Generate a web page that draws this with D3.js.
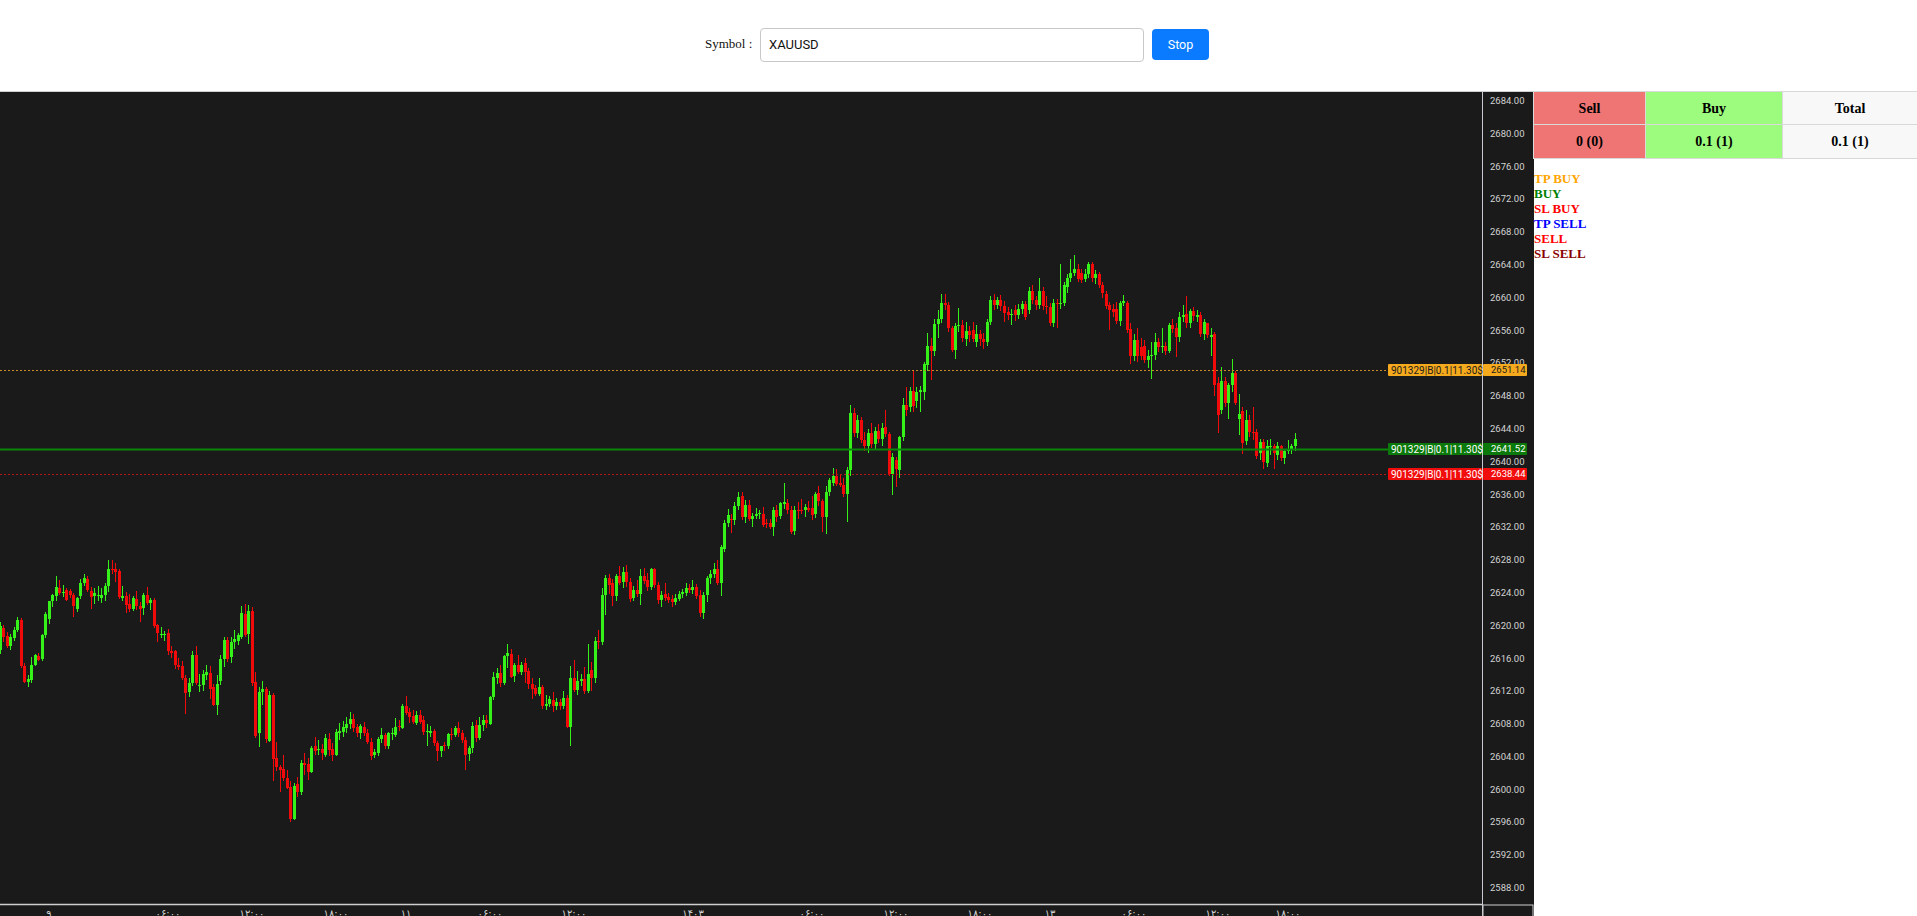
<!DOCTYPE html>
<html>
<head>
<meta charset="utf-8">
<title>XAUUSD</title>
<script src="https://cdn.jsdelivr.net/npm/d3@7"></script>
<style>
  body { margin: 0; width: 1917px; height: 916px; overflow: hidden; position: relative; background: #fff; font-family: "Liberation Serif", serif; }
  #topbar { position: absolute; left: 0; top: 0; width: 1917px; height: 91px; border-bottom: 1px solid #cfcfcf; background: #fff; }
  #symLabel { position: absolute; left: 705px; top: 36px; font-size: 13px; color: #111; }
  #symInput { position: absolute; left: 760px; top: 28px; width: 384px; height: 34px; box-sizing: border-box; border: 1px solid #c8c8c8; border-radius: 4px; font: 13px Roboto, sans-serif; color: #111; padding: 0 0 0 8px; line-height: 32px; }
  #stopBtn { position: absolute; left: 1152px; top: 29px; width: 57px; height: 31px; background: #0a7bff; color: #fff; border-radius: 4px; font: 12.5px Roboto, sans-serif; text-align: center; line-height: 31px; }
  #chart { position: absolute; left: 0; top: 0; }
  #summary { position: absolute; left: 1533px; top: 91px; width: 384px; border-collapse: collapse; table-layout: fixed; font: bold 14px "Liberation Serif", serif; color: #000; }
  #summary td { border: 1px solid #d9d9d9; text-align: center; padding: 0; }
  #summary tr.head td { height: 31px; padding-top: 1px; }
  #summary tr.vals td { height: 32px; padding-top: 1px; }
  #legend { position: absolute; left: 1534px; top: 172px; font: bold 13px "Liberation Serif", serif; line-height: 14.9px; }
</style>
</head>
<body>
<div id="topbar">
  <div id="symLabel">Symbol :</div>
  <div id="symInput">XAUUSD</div>
  <div id="stopBtn">Stop</div>
</div>
<div id="chart"></div>
<table id="summary">
  <colgroup><col style="width:112px"><col style="width:137px"><col style="width:135px"></colgroup>
</table>
<div id="legend"></div>

<script>
// 15 min XAUUSD candles, [open, high, low, close]
var ohlc = [
[2617.0,2620.4,2616.5,2619.9],[2619.6,2620.0,2618.0,2618.5],[2618.7,2619.2,2617.2,2617.4],[2617.4,2618.9,2617.0,2618.5],
[2618.4,2619.8,2618.1,2619.4],[2619.4,2621.0,2619.2,2620.6],[2620.6,2620.9,2614.8,2615.0],[2615.0,2615.4,2612.9,2613.1],
[2613.1,2613.9,2612.4,2613.4],[2613.3,2616.1,2613.0,2615.2],[2615.2,2616.5,2615.0,2616.3],[2616.2,2616.6,2615.6,2615.8],
[2615.9,2618.9,2615.6,2618.8],[2618.8,2621.6,2618.4,2621.4],[2620.8,2623.0,2620.2,2622.9],[2622.9,2623.8,2622.2,2623.7],
[2623.5,2626.0,2623.0,2624.7],[2624.5,2625.5,2623.7,2623.9],[2624.0,2624.9,2623.4,2624.1],[2624.3,2624.5,2622.9,2623.1],
[2624.2,2624.4,2623.3,2623.7],[2623.7,2623.9,2621.0,2622.3],[2622.0,2623.4,2621.6,2623.3],[2623.5,2625.6,2623.2,2625.2],
[2625.1,2626.2,2624.8,2625.7],[2625.6,2626.0,2624.1,2624.3],[2624.2,2624.6,2622.0,2623.4],[2623.5,2624.5,2622.6,2623.9],
[2623.6,2624.8,2623.0,2623.7],[2623.3,2624.5,2622.7,2623.7],[2623.7,2625.1,2623.0,2624.8],[2624.8,2628.0,2624.0,2626.9],
[2626.9,2628.0,2626.2,2626.7],[2626.8,2627.6,2625.3,2626.5],[2626.6,2626.8,2623.2,2623.4],[2623.3,2624.8,2623.0,2623.5],
[2623.6,2624.0,2621.5,2622.5],[2622.6,2623.8,2621.6,2622.0],[2622.0,2623.5,2621.7,2623.3],[2623.2,2624.2,2621.8,2622.3],
[2622.3,2622.8,2620.4,2622.0],[2622.1,2623.9,2621.3,2623.7],[2623.7,2624.6,2622.4,2622.7],[2622.7,2623.3,2621.8,2623.1],
[2623.1,2623.3,2619.7,2619.9],[2620.0,2620.2,2618.0,2619.0],[2618.9,2619.8,2618.4,2618.9],[2618.8,2619.3,2618.1,2618.9],
[2619.0,2619.5,2616.4,2616.8],[2616.9,2617.5,2616.0,2616.6],[2616.8,2617.0,2614.7,2615.1],[2615.2,2616.0,2614.5,2614.9],
[2615.0,2615.6,2613.3,2613.6],[2613.6,2613.9,2609.2,2611.7],[2611.8,2613.6,2611.2,2613.0],[2613.0,2616.9,2612.6,2616.4],
[2616.4,2617.4,2612.7,2612.9],[2612.7,2614.0,2611.8,2612.7],[2612.7,2614.5,2612.0,2614.0],[2613.9,2615.2,2613.3,2614.3],
[2614.2,2615.0,2611.0,2612.2],[2612.4,2612.8,2610.1,2610.3],[2610.3,2613.9,2609.0,2612.8],[2613.2,2616.4,2612.7,2615.9],
[2615.9,2618.6,2614.9,2618.2],[2618.2,2618.6,2615.5,2615.9],[2616.1,2618.5,2615.4,2617.9],[2617.9,2619.4,2617.1,2618.3],
[2618.1,2619.1,2617.6,2618.8],[2618.6,2622.3,2618.3,2621.5],[2621.4,2622.6,2618.6,2618.8],[2618.9,2622.4,2617.7,2621.7],
[2621.7,2622.2,2612.6,2613.0],[2613.1,2614.3,2606.2,2606.5],[2606.8,2612.5,2605.1,2611.9],[2611.8,2613.2,2610.3,2612.2],
[2612.2,2612.5,2605.6,2606.1],[2605.9,2612.0,2605.7,2611.5],[2611.5,2611.7,2601.0,2603.7],[2603.8,2605.8,2602.2,2602.7],
[2602.7,2603.0,2599.6,2602.3],[2602.4,2604.2,2601.0,2601.4],[2601.4,2602.3,2600.0,2600.1],[2600.2,2601.0,2596.0,2596.3],
[2596.4,2600.8,2596.2,2600.4],[2600.6,2601.5,2599.1,2599.7],[2599.7,2603.5,2599.3,2603.2],[2603.2,2604.4,2601.7,2602.9],
[2603.1,2603.8,2601.1,2602.1],[2602.1,2605.3,2602.0,2605.0],[2605.2,2606.4,2604.2,2604.7],[2604.8,2606.0,2604.2,2604.9],
[2604.9,2605.5,2603.6,2604.4],[2604.2,2606.7,2603.9,2606.2],[2606.1,2606.9,2604.0,2604.8],[2604.9,2605.6,2603.4,2604.2],
[2604.2,2607.3,2604.0,2607.0],[2606.9,2608.1,2606.0,2607.1],[2607.0,2608.3,2606.4,2607.6],[2607.5,2608.8,2606.9,2608.0],
[2608.0,2609.4,2607.3,2608.6],[2608.6,2609.2,2607.0,2607.4],[2607.6,2608.0,2606.4,2606.9],[2606.9,2607.9,2606.1,2607.7],
[2607.6,2608.2,2606.5,2606.8],[2606.9,2607.3,2605.5,2605.8],[2605.7,2606.2,2603.6,2604.0],[2604.2,2604.9,2603.8,2604.5],
[2604.4,2606.4,2604.0,2606.1],[2606.1,2607.4,2605.6,2606.6],[2606.6,2606.9,2604.9,2605.2],[2605.2,2607.0,2604.9,2606.9],
[2606.8,2607.5,2606.0,2606.9],[2606.6,2608.7,2606.3,2607.6],[2607.7,2608.4,2607.1,2607.6],[2607.5,2610.4,2607.3,2610.1],
[2610.1,2611.4,2609.0,2609.3],[2609.4,2609.9,2608.1,2608.8],[2608.9,2609.6,2607.9,2608.2],[2608.1,2609.5,2607.8,2609.1],
[2609.1,2609.6,2607.9,2608.2],[2608.4,2608.9,2606.6,2607.0],[2607.0,2607.9,2605.2,2607.1],[2606.9,2607.7,2606.3,2607.1],
[2607.1,2607.3,2605.2,2605.6],[2605.6,2605.9,2603.4,2604.6],[2604.6,2605.3,2603.9,2605.3],[2605.4,2605.8,2604.7,2605.2],
[2605.2,2606.9,2604.9,2606.7],[2606.7,2607.4,2606.0,2606.6],[2606.6,2607.7,2606.3,2607.5],[2607.5,2608.2,2606.4,2606.8],
[2606.9,2607.2,2605.6,2606.0],[2606.0,2606.3,2602.3,2604.2],[2604.3,2605.2,2603.4,2605.0],[2605.0,2608.2,2604.4,2607.7],
[2607.8,2608.4,2605.8,2606.2],[2606.2,2608.8,2606.0,2607.8],[2607.8,2609.1,2607.1,2608.4],[2608.4,2609.0,2607.4,2608.1],
[2608.0,2611.4,2607.8,2611.2],[2611.2,2614.3,2610.9,2613.7],[2613.6,2614.8,2612.8,2614.2],[2614.2,2615.1,2612.5,2613.0],
[2613.0,2616.3,2612.7,2616.2],[2616.2,2617.7,2614.8,2616.6],[2616.5,2617.1,2613.5,2613.7],[2613.8,2615.4,2613.1,2615.1],
[2615.1,2616.3,2614.0,2614.3],[2614.3,2615.5,2613.9,2615.1],[2615.4,2616.0,2612.9,2614.3],[2614.4,2614.8,2612.2,2612.8],
[2612.8,2613.5,2611.0,2612.2],[2612.3,2612.7,2611.3,2611.6],[2611.6,2613.6,2611.3,2612.4],[2612.4,2612.7,2609.8,2610.1],
[2610.1,2611.5,2609.7,2610.4],[2610.4,2611.4,2610.0,2611.0],[2610.9,2611.9,2609.4,2610.1],[2610.1,2611.1,2609.7,2610.6],
[2610.6,2611.0,2609.6,2610.1],[2610.1,2612.0,2609.8,2611.1],[2611.1,2611.5,2607.5,2607.6],[2607.6,2615.0,2605.2,2613.6],
[2613.6,2615.7,2611.8,2612.1],[2612.1,2614.4,2611.5,2613.2],[2613.2,2614.0,2612.6,2613.4],[2613.4,2614.9,2611.6,2612.0],
[2612.0,2617.7,2611.7,2614.1],[2614.5,2615.5,2612.0,2613.5],[2613.5,2618.5,2612.9,2618.1],[2618.1,2619.4,2617.1,2618.0],
[2618.0,2624.5,2617.6,2623.7],[2623.7,2626.1,2621.2,2625.7],[2625.7,2626.3,2623.8,2624.9],[2625.1,2625.6,2622.3,2623.5],
[2623.6,2626.3,2623.0,2626.0],[2626.0,2627.2,2624.9,2625.2],[2625.3,2627.1,2624.5,2626.5],[2626.5,2627.4,2624.7,2625.3],
[2625.3,2625.8,2622.8,2623.2],[2623.3,2624.8,2622.9,2624.3],[2624.3,2625.5,2623.4,2623.8],[2623.8,2626.9,2622.5,2626.0],
[2626.0,2627.0,2625.0,2625.4],[2625.5,2626.4,2624.2,2624.6],[2624.7,2627.0,2624.3,2626.8],[2626.8,2627.0,2624.5,2624.9],
[2624.9,2625.3,2622.6,2623.1],[2623.1,2624.2,2622.2,2623.7],[2623.8,2625.1,2623.0,2623.3],[2623.4,2623.9,2622.7,2623.1],
[2623.2,2623.7,2622.2,2622.8],[2622.8,2623.8,2622.4,2623.3],[2623.2,2624.2,2622.9,2623.8],[2623.8,2624.4,2623.3,2624.0],
[2623.9,2625.1,2623.6,2624.5],[2624.5,2625.0,2623.9,2624.3],[2624.3,2625.5,2623.8,2624.7],[2624.7,2625.0,2623.2,2623.5],
[2623.7,2624.3,2621.0,2621.5],[2621.5,2624.0,2620.8,2623.7],[2623.7,2626.0,2622.8,2625.7],[2625.7,2626.7,2625.0,2626.2],
[2626.2,2627.6,2625.8,2626.8],[2626.8,2628.0,2624.9,2625.2],[2625.2,2629.8,2623.6,2629.5],[2629.3,2632.8,2628.9,2632.5],
[2632.5,2634.2,2632.0,2633.4],[2633.0,2633.5,2631.3,2632.8],[2632.8,2635.0,2632.2,2634.5],[2634.5,2636.3,2634.0,2635.6],
[2635.7,2636.2,2632.8,2633.2],[2633.2,2635.3,2632.5,2634.7],[2634.7,2635.3,2632.7,2632.9],[2632.9,2633.7,2632.0,2633.3],
[2633.3,2634.3,2632.9,2633.6],[2633.6,2634.0,2633.0,2633.7],[2633.6,2634.4,2632.0,2632.2],[2632.5,2633.0,2631.9,2632.3],
[2632.5,2632.9,2631.7,2632.0],[2632.0,2634.4,2630.9,2634.1],[2634.0,2634.6,2632.6,2633.2],[2633.3,2635.0,2633.0,2634.9],
[2634.8,2637.3,2634.2,2635.0],[2634.9,2635.4,2633.6,2634.0],[2634.1,2634.5,2631.1,2631.4],[2631.5,2634.5,2631.0,2634.1],
[2634.1,2635.0,2633.0,2634.0],[2634.1,2635.4,2633.5,2634.0],[2634.0,2634.8,2633.2,2634.4],[2634.3,2635.1,2633.8,2634.1],
[2634.3,2635.8,2632.8,2633.4],[2633.6,2636.2,2633.1,2636.0],[2636.1,2637.0,2634.5,2635.1],[2635.1,2635.4,2631.4,2633.2],
[2633.2,2637.0,2631.1,2636.3],[2636.3,2638.0,2635.8,2637.7],[2637.3,2639.2,2637.0,2638.2],[2638.2,2639.0,2637.0,2637.2],
[2637.3,2638.5,2636.8,2637.1],[2637.1,2637.9,2635.6,2636.0],[2636.0,2639.3,2632.6,2638.9],[2638.9,2646.8,2638.2,2645.9],
[2645.9,2646.5,2643.0,2643.5],[2643.5,2645.6,2642.8,2645.0],[2645.0,2645.4,2642.2,2642.6],[2642.6,2643.6,2641.2,2641.8],
[2641.8,2643.9,2641.0,2643.4],[2643.4,2644.6,2641.6,2642.1],[2642.1,2644.2,2641.5,2643.7],[2643.7,2644.5,2642.2,2642.7],
[2642.7,2644.6,2641.8,2644.1],[2644.2,2646.3,2643.0,2643.3],[2643.3,2643.6,2638.2,2638.4],[2638.4,2641.0,2635.9,2640.5],
[2640.1,2640.5,2636.9,2639.0],[2638.9,2643.1,2638.0,2642.9],[2642.9,2647.7,2642.5,2646.9],[2646.9,2649.1,2645.5,2646.2],
[2646.6,2649.0,2646.0,2648.6],[2648.6,2651.1,2646.0,2646.7],[2647.4,2649.1,2646.5,2648.5],[2648.5,2649.2,2646.0,2648.7],
[2648.5,2652.1,2647.5,2651.9],[2651.7,2655.7,2651.0,2654.1],[2654.1,2655.0,2649.9,2653.5],[2653.5,2657.4,2652.8,2656.7],
[2656.7,2658.5,2655.0,2657.4],[2657.4,2660.4,2656.8,2659.3],[2659.3,2660.4,2658.5,2659.0],[2659.1,2659.4,2655.8,2656.3],
[2656.3,2656.5,2653.3,2653.6],[2653.6,2656.8,2652.5,2656.5],[2656.5,2658.7,2655.8,2656.6],[2656.6,2657.2,2654.6,2655.0],
[2654.9,2657.0,2654.0,2655.9],[2655.9,2656.5,2654.6,2655.4],[2656.0,2657.0,2654.5,2654.9],[2654.6,2656.6,2653.9,2655.5],
[2655.5,2656.0,2654.0,2654.9],[2654.9,2655.6,2653.7,2654.6],[2654.6,2657.3,2654.0,2657.0],[2657.0,2660.2,2656.6,2659.7],
[2659.7,2660.4,2658.5,2659.1],[2659.1,2660.0,2658.6,2659.7],[2659.7,2660.3,2658.3,2658.9],[2658.9,2659.5,2657.0,2658.1],
[2658.2,2658.8,2657.2,2657.8],[2657.8,2658.6,2656.6,2658.0],[2658.4,2659.0,2657.1,2657.8],[2657.8,2659.2,2657.4,2658.6],
[2658.6,2659.6,2658.0,2659.2],[2659.2,2659.5,2657.2,2657.6],[2658.4,2661.3,2657.9,2660.8],[2660.8,2661.5,2659.2,2659.7],
[2659.7,2660.1,2658.4,2659.0],[2659.0,2662.3,2658.6,2660.8],[2660.8,2661.2,2658.4,2658.9],[2658.9,2660.1,2658.0,2658.8],
[2658.8,2659.3,2656.5,2656.9],[2656.9,2659.8,2656.4,2659.3],[2659.3,2659.8,2656.2,2659.2],[2659.2,2664.0,2658.6,2659.3],
[2659.3,2661.8,2658.9,2661.5],[2661.3,2662.8,2660.5,2662.3],[2662.3,2664.7,2661.8,2663.0],[2663.0,2665.2,2662.6,2663.5],
[2663.4,2664.0,2661.9,2662.2],[2663.0,2663.4,2661.7,2662.1],[2662.2,2663.4,2661.9,2662.8],[2662.8,2664.3,2662.3,2664.1],
[2664.1,2664.3,2661.9,2662.3],[2662.3,2663.3,2661.6,2662.8],[2662.8,2663.1,2661.1,2661.5],[2661.5,2661.8,2659.9,2660.5],
[2660.4,2660.8,2658.6,2658.9],[2659.1,2659.4,2656.0,2658.5],[2658.6,2659.2,2657.6,2658.2],[2658.6,2659.4,2656.7,2657.1],
[2657.1,2659.5,2656.5,2659.3],[2659.3,2660.3,2658.9,2659.5],[2659.3,2659.6,2655.7,2656.0],[2656.1,2656.8,2651.9,2652.8],
[2652.8,2655.5,2652.2,2654.8],[2654.8,2656.2,2652.1,2652.8],[2653.9,2655.0,2652.3,2652.8],[2654.0,2654.8,2652.0,2652.4],
[2652.4,2653.6,2651.4,2652.8],[2652.8,2654.5,2650.0,2653.0],[2653.0,2655.7,2652.4,2654.6],[2654.6,2655.0,2653.3,2653.9],
[2653.9,2656.3,2653.2,2654.1],[2654.1,2654.6,2652.9,2653.5],[2653.5,2656.9,2653.2,2656.6],[2656.6,2657.3,2655.6,2656.1],
[2656.2,2656.8,2652.7,2655.2],[2655.2,2658.2,2654.6,2657.6],[2657.6,2659.1,2657.0,2657.8],[2658.0,2660.2,2656.3,2656.8],
[2656.8,2658.6,2656.3,2658.3],[2658.3,2658.8,2657.1,2657.7],[2657.6,2658.4,2657.0,2657.8],[2657.8,2658.2,2655.2,2655.5],
[2655.5,2657.4,2654.8,2657.0],[2656.8,2656.9,2655.0,2655.4],[2655.2,2656.3,2652.8,2655.4],[2655.5,2655.8,2648.0,2649.3],
[2649.6,2650.3,2643.4,2645.6],[2646.2,2651.5,2645.8,2649.8],[2649.8,2650.3,2646.6,2647.1],[2647.1,2649.6,2645.1,2649.3],
[2649.3,2652.5,2648.5,2650.7],[2650.7,2651.0,2646.8,2647.1],[2645.2,2648.2,2643.2,2645.8],[2646.1,2646.6,2640.9,2642.2],
[2642.5,2646.2,2642.0,2645.0],[2645.0,2645.6,2643.0,2643.6],[2643.6,2646.6,2642.6,2643.4],[2643.6,2643.9,2640.3,2640.6],
[2641.0,2642.7,2640.2,2642.4],[2642.3,2642.7,2639.1,2639.9],[2639.8,2642.6,2639.3,2641.8],[2641.8,2642.7,2640.8,2641.9],
[2641.8,2642.1,2639.0,2641.0],[2640.8,2642.4,2640.2,2641.9],[2641.9,2642.0,2640.0,2640.4],[2640.4,2641.5,2639.6,2641.3],
[2641.3,2642.6,2640.9,2641.5],[2641.5,2642.1,2640.9,2641.8],[2641.8,2643.4,2641.2,2642.7]
];

// price scale ticks
var priceTicks = [2588, 2592, 2596, 2600, 2604, 2608, 2612, 2616, 2620, 2624, 2628, 2632, 2636,
                  2640, 2644, 2648, 2652, 2656, 2660, 2664, 2668, 2672, 2676, 2680, 2684];

// time scale ticks (candle index + label)
var timeTickIdx  = [14, 48, 72, 96, 116, 140, 164, 198, 232, 256, 280, 300, 324, 348, 368];
var timeTickText = ["۹", "۰۶:۰۰", "۱۲:۰۰", "۱۸:۰۰", "۱۱", "۰۶:۰۰", "۱۲:۰۰", "۱۴۰۳",
                    "۰۶:۰۰", "۱۲:۰۰", "۱۸:۰۰", "۱۳", "۰۶:۰۰", "۱۲:۰۰", "۱۸:۰۰"];

// open position lines
var orderPrices = [2651.14, 2641.52, 2638.44];
var orderTags   = ["901329|B|0.1|11.30$", "901329|B|0.1|11.30$", "901329|B|0.1|11.30$"];
var orderKinds  = ["tp", "entry", "sl"];

// summary table + legend
var sideNames  = ["Sell", "Buy", "Total"];
var sideValues = ["0 (0)", "0.1 (1)", "0.1 (1)"];
var legendItems = ["TP BUY", "BUY", "SL BUY", "TP SELL", "SELL", "SL SELL"];

var kindStyle = {
    tp:    { line: "#c98d28", box: "#f5a91d", txt: "#1b1b1b", w: 1, dash: "2,2" },
    entry: { line: "#0b850b", box: "#0b7a0b", txt: "#ffffff", w: 2, dash: null },
    sl:    { line: "#b01616", box: "#f20d0d", txt: "#ffffff", w: 1, dash: "2,2" }
};
var sideFill = ["#ef7575", "#9dfc7d", "#f8f8f8"];
var legendColor = ["orange", "green", "red", "blue", "red", "darkred"];

var W = 1534, H = 916;
var plotTop = 92, plotRight = 1482, plotBottom = 904;

var svg = d3.select("#chart").append("svg")
    .attr("width", W)
    .attr("height", H);

svg.append("rect")
    .attr("x", 0).attr("y", plotTop)
    .attr("width", W).attr("height", H - plotTop)
    .attr("fill", "#1a1a1a");

svg.append("clipPath").attr("id", "plotClip")
    .append("rect")
    .attr("x", 0).attr("y", plotTop)
    .attr("width", plotRight).attr("height", plotBottom - plotTop);

var x = d3.scaleLinear().domain([0, ohlc.length - 1]).range([-0.5, 1294.5]);
var y = d3.scaleLinear().domain([2588, 2684]).range([887.5, 100.5]);

var plot = svg.append("g").attr("clip-path", "url(#plotClip)");

function candleColor(d) {
    return d[3] >= d[0] ? "#36f01a" : "#f00a0a";
}

plot.selectAll("line.wick")
    .data(ohlc)
    .enter()
    .append("line")
    .attr("class", "wick")
    .attr("x1", function(d, i) { return Math.round(x(i)) + 0.5; })
    .attr("x2", function(d, i) { return Math.round(x(i)) + 0.5; })
    .attr("y1", function(d) { return y(d[1]); })
    .attr("y2", function(d) { return y(d[2]); })
    .attr("stroke", candleColor)
    .attr("stroke-width", 1)
    .attr("shape-rendering", "crispEdges");

plot.selectAll("rect.body")
    .data(ohlc)
    .enter()
    .append("rect")
    .attr("class", "body")
    .attr("x", function(d, i) { return Math.round(x(i)) - 1; })
    .attr("width", 3)
    .attr("y", function(d) { return y(Math.max(d[0], d[3])); })
    .attr("height", function(d) { return Math.max(1, Math.abs(y(d[0]) - y(d[3]))); })
    .attr("fill", candleColor)
    .attr("shape-rendering", "crispEdges");

// order lines
plot.selectAll("line.order")
    .data(orderPrices)
    .enter()
    .append("line")
    .attr("class", "order")
    .attr("x1", 0)
    .attr("x2", plotRight)
    .attr("y1", function(d) { return Math.round(y(d)) + 0.5; })
    .attr("y2", function(d) { return Math.round(y(d)) + 0.5; })
    .attr("stroke", function(d, i) { return kindStyle[orderKinds[i]].line; })
    .attr("stroke-width", function(d, i) { return kindStyle[orderKinds[i]].w; })
    .attr("stroke-dasharray", function(d, i) { return kindStyle[orderKinds[i]].dash; });

// axis frame lines
svg.append("line")
    .attr("x1", plotRight + 0.5).attr("x2", plotRight + 0.5)
    .attr("y1", plotTop).attr("y2", H)
    .attr("stroke", "#c9c9d2").attr("stroke-width", 1);
svg.append("line")
    .attr("x1", 0).attr("x2", plotRight)
    .attr("y1", plotBottom + 0.5).attr("y2", plotBottom + 0.5)
    .attr("stroke", "#cfcfcf").attr("stroke-width", 1.5);

// price axis
var yAxis = d3.axisRight(y)
    .tickValues(priceTicks)
    .tickFormat(function(d) { return d.toFixed(2); })
    .tickSize(0)
    .tickPadding(8);

var gy = svg.append("g")
    .attr("transform", "translate(" + plotRight + ",0)")
    .call(yAxis);
gy.select(".domain").remove();
gy.selectAll("text")
    .attr("fill", "#d2d2d2")
    .attr("font-family", "Roboto, sans-serif")
    .attr("font-size", "9.5px");

// time axis
var xAxis = d3.axisBottom(x)
    .tickValues(timeTickIdx)
    .tickFormat(function(d, i) { return timeTickText[i]; })
    .tickSize(0)
    .tickPadding(6);

var gx = svg.append("g")
    .attr("transform", "translate(0," + plotBottom + ")")
    .call(xAxis);
gx.select(".domain").remove();
gx.selectAll("text")
    .attr("fill", "#d2d2d2")
    .attr("font-family", "'DejaVu Sans', sans-serif")
    .attr("font-size", "10px");

// order labels on the right
var tags = svg.selectAll("g.tag")
    .data(orderPrices)
    .enter()
    .append("g")
    .attr("class", "tag")
    .attr("transform", function(d) { return "translate(0," + Math.round(y(d)) + ")"; });

tags.append("rect")
    .attr("x", 1388).attr("y", -6)
    .attr("width", plotRight - 1388).attr("height", 12)
    .attr("rx", 1)
    .attr("fill", function(d, i) { return kindStyle[orderKinds[i]].box; });

tags.append("text")
    .attr("x", 1391).attr("y", 0).attr("dy", "0.35em")
    .text(function(d, i) { return orderTags[i]; })
    .attr("font-family", "Roboto, sans-serif")
    .attr("font-size", "10px")
    .attr("fill", function(d, i) { return kindStyle[orderKinds[i]].txt; });

tags.append("rect")
    .attr("x", plotRight + 1).attr("y", -6)
    .attr("width", 44).attr("height", 12)
    .attr("rx", 1)
    .attr("fill", function(d, i) { return kindStyle[orderKinds[i]].box; });

tags.append("text")
    .attr("x", plotRight + 9).attr("y", 0).attr("dy", "0.35em")
    .text(function(d) { return d.toFixed(2); })
    .attr("font-family", "Roboto, sans-serif")
    .attr("font-size", "9.5px")
    .attr("fill", function(d, i) { return kindStyle[orderKinds[i]].txt; });

// bottom right corner box
svg.append("rect")
    .attr("x", plotRight + 1).attr("y", plotBottom + 1)
    .attr("width", W - plotRight - 2).attr("height", H - plotBottom)
    .attr("fill", "#1a1a1a")
    .attr("stroke", "#cfcfcf").attr("stroke-width", 1);

// summary table
var table = d3.select("#summary");
table.append("tr").attr("class", "head")
    .selectAll("td").data(sideNames).enter().append("td")
    .style("background", function(d, i) { return sideFill[i]; })
    .text(function(d) { return d; });
table.append("tr").attr("class", "vals")
    .selectAll("td").data(sideValues).enter().append("td")
    .style("background", function(d, i) { return sideFill[i]; })
    .text(function(d) { return d; });

d3.select("#legend").selectAll("div")
    .data(legendItems)
    .enter()
    .append("div")
    .style("color", function(d, i) { return legendColor[i]; })
    .text(function(d) { return d; });
</script>
</body>
</html>
